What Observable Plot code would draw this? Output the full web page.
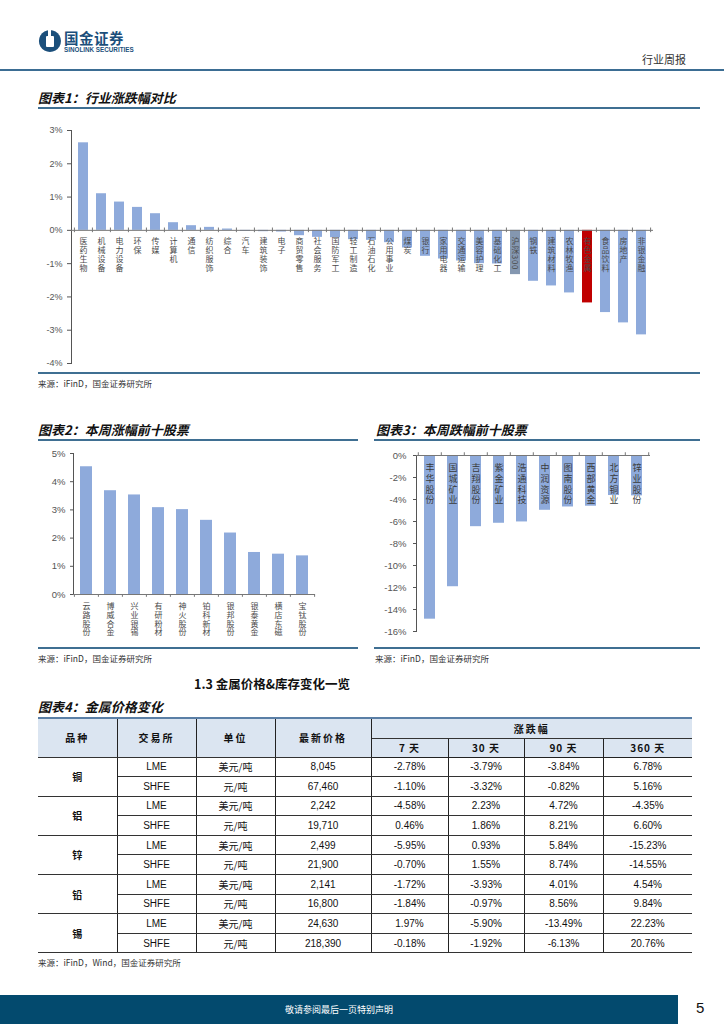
<!DOCTYPE html>
<html><head><meta charset="utf-8">
<script src="https://cdn.jsdelivr.net/npm/d3@7"></script>
<script src="https://cdn.jsdelivr.net/npm/@observablehq/plot@0.6"></script>
<style>
body{margin:0;background:#fff;}
#page{position:relative;width:724px;height:1024px;overflow:hidden;font-family:"Noto Sans CJK SC","Liberation Sans",sans-serif;color:#222;background:#fff;}
.abs{position:absolute;white-space:nowrap;}
.title{font-size:13px;font-weight:bold;font-style:italic;line-height:16px;height:16px;color:#111;}
.src{font-size:8.5px;line-height:12px;color:#333;}
.hl{position:absolute;height:2px;background:#3f6f92;}
table.t{position:absolute;left:38px;top:717px;width:654px;border-collapse:collapse;table-layout:fixed;font-size:10px;font-family:"Liberation Sans","Noto Sans CJK SC",sans-serif;color:#111;}
table.t td{padding:0;text-align:center;vertical-align:middle;border-left:1px solid #222;border-right:1px solid #222;border-bottom:1px solid #333;}
table.t td.first{border-left:none;}
table.t td.last{border-right:none;}
table.t tr.h td{background:#dbe5f1;font-family:"Noto Sans CJK SC",sans-serif;font-weight:bold;letter-spacing:2px;}
table.t tr.h1 td{border-top:2px solid #5a7fa6;}
table.t tr.gend td{border-bottom:1.5px solid #333;}
table.t tr.hend td{border-bottom:1.5px solid #222;}
</style></head>
<body><div id="page">
  <!-- header -->
  <svg class="abs" style="left:38px;top:29px" width="24" height="24" viewBox="0 0 24 24">
    <path d="M12 1 A11 11 0 1 1 11.9 1 Z" fill="#1b4f7b"/>
    <rect x="8" y="7" width="8" height="11" rx="1" fill="#fff"/>
    <rect x="10" y="0" width="3" height="7" fill="#fff"/>
  </svg>
  <div class="abs" style="left:64px;top:30px;font-size:14.5px;font-weight:bold;color:#1b4f7b;line-height:16px;letter-spacing:0.5px">国金证券</div>
  <div class="abs" style="left:64px;top:46px;font-size:6.3px;font-weight:bold;color:#1b4f7b;line-height:8px;font-family:'Liberation Sans'">SINOLINK SECURITIES</div>
  <div class="abs" style="left:642px;top:52px;font-size:11px;color:#333;line-height:14px">行业周报</div>
  <div class="hl" style="left:0;top:69px;width:724px;background:#3b6d93"></div>

  <!-- chart 1 -->
  <div class="abs title" style="left:38px;top:90px">图表1：行业涨跌幅对比</div>
  <div class="hl" style="left:38px;top:107px;width:662px"></div>
  <div id="c1" class="abs" style="left:0;top:120px;width:724px;height:260px"></div>
  <div class="hl" style="left:38px;top:372px;width:662px"></div>
  <div class="abs src" style="left:38px;top:377px">来源：iFinD，国金证券研究所</div>

  <!-- chart 2 & 3 -->
  <div class="abs title" style="left:38px;top:422px">图表2：本周涨幅前十股票</div>
  <div class="hl" style="left:38px;top:439px;width:320px"></div>
  <div class="abs title" style="left:376px;top:422px">图表3：本周跌幅前十股票</div>
  <div class="hl" style="left:374px;top:439px;width:326px"></div>
  <div id="c2" class="abs" style="left:0;top:445px;width:360px;height:200px"></div>
  <div id="c3" class="abs" style="left:360px;top:445px;width:364px;height:195px"></div>
  <div class="hl" style="left:38px;top:647px;width:320px"></div>
  <div class="hl" style="left:374px;top:647px;width:326px"></div>
  <div class="abs src" style="left:38px;top:652px">来源：iFinD，国金证券研究所</div>
  <div class="abs src" style="left:375px;top:652px">来源：iFinD，国金证券研究所</div>

  <!-- section / table -->
  <div class="abs" style="left:194px;top:676px;font-size:12.5px;font-weight:bold;line-height:16px;color:#111">1.3 金属价格&amp;库存变化一览</div>
  <div class="abs title" style="left:38px;top:699px">图表4：金属价格变化</div>
  <div id="tbl"></div>
  <div class="abs src" style="left:38px;top:956px">来源：iFinD，Wind，国金证券研究所</div>

  <!-- footer -->
  <div class="abs" style="left:0;top:995px;width:678px;height:29px;background:#034a6e;color:#fff;font-size:9px;line-height:29px;text-align:center">敬请参阅最后一页特别声明</div>
  <div class="abs" style="left:696px;top:998px;font-size:15px;line-height:20px;color:#111;font-family:'Liberation Sans'">5</div>
</div>
<script>
// ---------- data ----------
const industries = ["医药生物","机械设备","电力设备","环保","传媒","计算机","通信","纺织服饰","综合","汽车","建筑装饰","电子","商贸零售","社会服务","国防军工","轻工制造","石油石化","公用事业","煤炭","银行","家用电器","交通运输","美容护理","基础化工","沪深300","钢铁","建筑材料","农林牧渔","有色金属","食品饮料","房地产","非银金融"];
const industryChange = [2.63,1.10,0.85,0.69,0.50,0.23,0.14,0.09,0.04,-0.03,-0.04,-0.05,-0.16,-0.21,-0.22,-0.28,-0.30,-0.37,-0.53,-0.78,-0.86,-0.92,-1.00,-1.01,-1.33,-1.53,-1.67,-1.88,-2.18,-2.47,-2.78,-3.14];
const yTicks1 = [-4,-3,-2,-1,0,1,2,3];

const gainers = ["云路股份","博威合金","兴业银锡","有研粉材","神火股份","铂科新材","银邦股份","银泰黄金","横店东磁","宝钛股份"];
const gainerChange = [4.53,3.68,3.53,3.08,3.01,2.63,2.18,1.49,1.43,1.37];
const yTicks2 = [0,1,2,3,4,5];

const losers = ["丰华股份","国城矿业","吉翔股份","紫金矿业","浩通科技","中润资源","图南股份","西部黄金","北方铜业","锌业股份"];
const loserChange = [-14.88,-11.93,-6.47,-6.16,-6.04,-4.98,-4.68,-4.61,-3.64,-3.67];
const yTicks3 = [0,-2,-4,-6,-8,-10,-12,-14,-16];

const metals = ["铜","铝","锌","铅","锡"];
const exchanges = ["LME","SHFE"];
const units = ["美元/吨","元/吨"];
const latestPrice = ["8,045","67,460","2,242","19,710","2,499","21,900","2,141","16,800","24,630","218,390"];
const periods = ["7 天","30 天","90 天","360 天"];
const chg7 = [-2.78,-1.10,-4.58,0.46,-5.95,-0.70,-1.72,-1.84,1.97,-0.18];
const chg30 = [-3.79,-3.32,2.23,1.86,0.93,1.55,-3.93,-0.97,-5.90,-1.92];
const chg90 = [-3.84,-0.82,4.72,8.21,5.84,8.74,4.01,8.56,-13.49,-6.13];
const chg360 = [6.78,5.16,-4.35,6.60,-15.23,-14.55,4.54,9.84,22.23,20.76];

// ---------- helpers ----------
const BLUE = "#8eaadb";
const pct = d => d + "%";
const baseStyle = {fontFamily: "'Liberation Sans','Noto Sans CJK SC',sans-serif", fontSize: "9px", color: "#555", background: "transparent", overflow: "visible"};
// category labels are written top-to-bottom (vertical writing mode), as in the reference
function verticalLabels(svg, spacing) {
  d3.select(svg).selectAll("g[aria-label='text'] text")
    .attr("writing-mode", "vertical-rl")
    .attr("text-anchor", "start")
    .attr("dy", null)
    .style("letter-spacing", spacing + "px");
}

// ---------- chart 1 ----------
{
  const data = industries.map((n, i) => ({name: n, v: industryChange[i]}));
  const colorOf = n => n === "有色金属" ? "#c00000" : n === "沪深300" ? "#8497b0" : BLUE;
  const W = 724, mL = 71, mR = 71;
  const step = (W - mL - mR) / industries.length;
  const chart = Plot.plot({
    width: W, height: 260, marginLeft: mL, marginRight: mR, marginTop: 10, marginBottom: 17,
    style: baseStyle,
    x: {domain: industries, paddingInner: 0.42, paddingOuter: 0.21, axis: null},
    y: {domain: [-4, 3], ticks: yTicks1, tickFormat: pct, tickSize: 4, tickPadding: 5, line: true, label: null, grid: false},
    color: {type: "identity"},
    marks: [
      Plot.barY(data, {x: "name", y: "v", fill: d => colorOf(d.name)}),
      Plot.ruleY([0], {stroke: "#777"}),
      Plot.ruleX(industries, {x: d => d, y1: -0.07, y2: 0.07, dx: -step / 2, stroke: "#777"}),
      Plot.ruleX(industries.slice(-1), {x: d => d, y1: -0.07, y2: 0.07, dx: step / 2, stroke: "#777"}),
      Plot.text(data, {x: "name", y: 0, text: "name", dy: 4.5, fontSize: 8, fill: "#4a4a4a", fontFamily: "'Noto Sans CJK SC',sans-serif"})
    ]
  });
  verticalLabels(chart, 0.7);
  document.getElementById("c1").appendChild(chart);
}

// ---------- chart 2 ----------
{
  const data = gainers.map((n, i) => ({name: n, v: gainerChange[i]}));
  const W = 360, mL = 73, mR = 45;
  const step = (W - mL - mR) / gainers.length;
  const chart = Plot.plot({
    width: W, height: 200, marginLeft: mL, marginRight: mR, marginTop: 8, marginBottom: 51,
    style: {...baseStyle, fontSize: "9.5px"},
    x: {domain: gainers, paddingInner: 0.52, paddingOuter: 0.26, axis: null},
    y: {domain: [0, 5], ticks: yTicks2, tickFormat: pct, tickSize: 3, tickPadding: 5, line: true, label: null},
    marks: [
      Plot.barY(data, {x: "name", y: "v", fill: BLUE}),
      Plot.ruleY([0], {stroke: "#777"}),
      Plot.ruleX(gainers, {x: d => d, y1: 0, y2: -0.1, dx: -step / 2, stroke: "#777"}),
      Plot.ruleX(gainers.slice(-1), {x: d => d, y1: 0, y2: -0.1, dx: step / 2, stroke: "#777"}),
      Plot.text(data, {x: "name", y: 0, text: "name", dy: 5, fontSize: 8, fill: "#4a4a4a", fontFamily: "'Noto Sans CJK SC',sans-serif"})
    ]
  });
  verticalLabels(chart, 0.8);
  document.getElementById("c2").appendChild(chart);
}

// ---------- chart 3 ----------
{
  const data = losers.map((n, i) => ({name: n, v: loserChange[i]}));
  const W = 364, mL = 56, mR = 74;
  const step = (W - mL - mR) / losers.length;
  const chart = Plot.plot({
    width: W, height: 195, marginLeft: mL, marginRight: mR, marginTop: 10, marginBottom: 9,
    style: {...baseStyle, fontSize: "9.5px"},
    x: {domain: losers, paddingInner: 0.53, paddingOuter: 0.265, axis: null},
    y: {domain: [-16, 0], ticks: yTicks3, tickFormat: pct, tickSize: 3, tickPadding: 7, line: true, label: null},
    marks: [
      Plot.barY(data, {x: "name", y: "v", fill: BLUE}),
      Plot.ruleY([0], {stroke: "#777"}),
      Plot.ruleX(losers, {x: d => d, y1: 0, y2: 0.25, dx: -step / 2, stroke: "#777"}),
      Plot.ruleX(losers.slice(-1), {x: d => d, y1: 0, y2: 0.25, dx: step / 2, stroke: "#777"}),
      Plot.text(data, {x: "name", y: 0, text: "name", dy: 4.5, fontSize: 9, fill: "#3a3a3a", fontFamily: "'Noto Sans CJK SC',sans-serif"})
    ]
  });
  verticalLabels(chart, 1.9);
  document.getElementById("c3").appendChild(chart);
}

// ---------- table ----------
{
  const fmt = v => v.toFixed(2) + "%";
  let h = '<table class="t"><colgroup>' + [79,79,79,96,77,76,79,89].map(w => `<col style="width:${w}px">`).join("") + '</colgroup>';
  h += '<tr class="h h1" style="height:20px"><td class="first" rowspan="2">品种</td><td rowspan="2">交易所</td><td rowspan="2">单位</td><td rowspan="2">最新价格</td><td class="last" colspan="4" style="border-bottom:1px solid #333">涨跌幅</td></tr>';
  h += '<tr class="h hend" style="height:19px">' + periods.map((p, i) => `<td${i === 3 ? ' class="last"' : ''} style="letter-spacing:1px">${p}</td>`).join("") + '</tr>';
  metals.forEach((m, mi) => {
    exchanges.forEach((ex, ei) => {
      const r = mi * 2 + ei;
      h += `<tr${ei === 1 ? ' class="gend"' : ''} style="height:19.6px">`;
      if (ei === 0) h += `<td class="first" rowspan="2" style="font-family:'Noto Sans CJK SC';font-weight:bold">${m}</td>`;
      h += `<td>${ex}</td><td style="font-family:'Noto Sans CJK SC'">${units[ei]}</td><td>${latestPrice[r]}</td>`;
      h += `<td>${fmt(chg7[r])}</td><td>${fmt(chg30[r])}</td><td>${fmt(chg90[r])}</td><td class="last">${fmt(chg360[r])}</td></tr>`;
    });
  });
  h += '</table>';
  document.getElementById("tbl").innerHTML = h;
}
</script>
</body></html>
